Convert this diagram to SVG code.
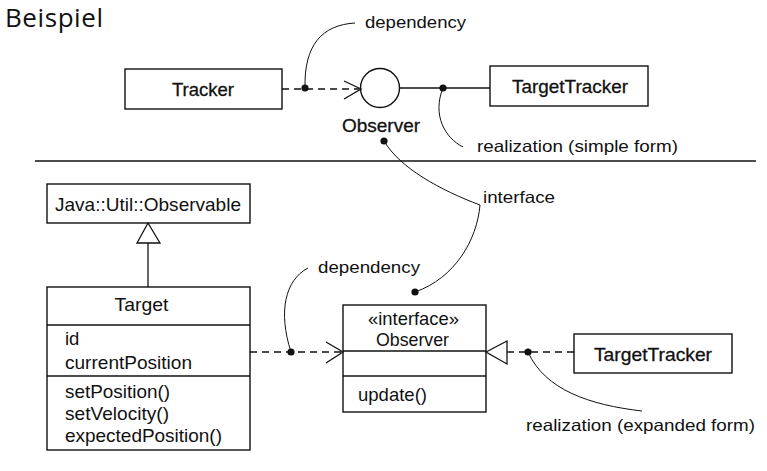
<svg xmlns="http://www.w3.org/2000/svg" width="767" height="471" viewBox="0 0 767 471">
<style>
.bg{fill:#ffffff}
.box{fill:#ffffff;stroke:#111;stroke-width:1.4}
.ln{fill:none;stroke:#111;stroke-width:1.3}
.dash{fill:none;stroke:#111;stroke-width:1.3;stroke-dasharray:7,5}
.lead{fill:none;stroke:#111;stroke-width:1}
.dot{fill:#111}
.tri{fill:#ffffff;stroke:#111;stroke-width:1.3}
text{font-family:"Liberation Sans",Arial,sans-serif;fill:#111}
.t{font-size:18.5px}
.b{font-size:18.5px;stroke:#111;stroke-width:0.3}
.n{font-size:16.5px}
.title{font-family:"Open Sans","DejaVu Sans",sans-serif;font-size:26px}
</style>
<rect class="bg" x="0" y="0" width="767" height="471"/>
<text class="title" x="5" y="27" textLength="98" lengthAdjust="spacing">Beispiel</text>
<line class="ln" x1="35" y1="161" x2="756" y2="161"/>

<g id="tracker">
<rect class="box" x="125" y="69" width="157" height="40"/>
<text class="b" x="172" y="95.5" textLength="62" lengthAdjust="spacingAndGlyphs">Tracker</text>
</g>
<g id="observer-lollipop">
<circle class="box" cx="380" cy="88" r="19.5"/>
<text class="b" x="342" y="132" textLength="78" lengthAdjust="spacingAndGlyphs">Observer</text>
</g>
<g id="targettracker-top">
<rect class="box" x="490" y="66" width="158" height="40"/>
<text class="b" x="512" y="93" textLength="116" lengthAdjust="spacingAndGlyphs">TargetTracker</text>
</g>

<g id="observable">
<rect class="box" x="47" y="184" width="203" height="39"/>
<text class="t" x="55" y="210.5" textLength="186" lengthAdjust="spacingAndGlyphs">Java::Util::Observable</text>
</g>
<g id="target">
<rect class="box" x="47" y="287" width="203" height="163"/>
<line class="ln" x1="47" y1="325" x2="250" y2="325"/>
<line class="ln" x1="47" y1="376" x2="250" y2="376"/>
<text class="t" x="114.5" y="311" textLength="54" lengthAdjust="spacingAndGlyphs">Target</text>
<text class="t" x="65" y="345">id</text>
<text class="t" x="65" y="368.5" textLength="127" lengthAdjust="spacingAndGlyphs">currentPosition</text>
<text class="t" x="65" y="397.5" textLength="105" lengthAdjust="spacingAndGlyphs">setPosition()</text>
<text class="t" x="65" y="420" textLength="104" lengthAdjust="spacingAndGlyphs">setVelocity()</text>
<text class="t" x="65" y="441.5" textLength="157" lengthAdjust="spacingAndGlyphs">expectedPosition()</text>
</g>
<g id="observer-interface">
<rect class="box" x="343" y="305" width="143" height="107"/>
<line class="ln" x1="343" y1="351" x2="486" y2="351"/>
<line class="ln" x1="343" y1="376" x2="486" y2="376"/>
<text class="t" x="368" y="325" textLength="91" lengthAdjust="spacingAndGlyphs">«interface»</text>
<text class="t" x="376" y="346" textLength="73" lengthAdjust="spacingAndGlyphs">Observer</text>
<text class="t" x="358" y="400.5" textLength="69" lengthAdjust="spacingAndGlyphs">update()</text>
</g>
<g id="targettracker-bottom">
<rect class="box" x="574" y="334" width="158" height="39"/>
<text class="b" x="594" y="360.5" textLength="118" lengthAdjust="spacingAndGlyphs">TargetTracker</text>
</g>

<g id="connectors">
<line class="dash" x1="282" y1="89" x2="359" y2="89"/>
<path class="ln" d="M344,81 L361,89 L344,99"/>
<line class="ln" x1="399.5" y1="88" x2="490" y2="88"/>
<line class="ln" x1="148" y1="243" x2="148" y2="287"/>
<path class="tri" d="M148,223 L160,243 L137,243 Z"/>
<line class="dash" x1="250" y1="352" x2="342" y2="352"/>
<path class="ln" d="M326,342 L343,352 L326,363"/>
<line class="dash" x1="507" y1="352" x2="574" y2="352"/>
<path class="tri" d="M486,352 L507,341 L507,364 Z"/>
</g>

<g id="annotations">
<path class="lead" d="M305,88 C304,45 322,25 355,23"/>
<circle class="dot" cx="305" cy="88" r="3.6"/>
<text class="n" x="365" y="28" textLength="101" lengthAdjust="spacingAndGlyphs">dependency</text>
<path class="lead" d="M443,88 C432,115 445,138 463,147"/>
<circle class="dot" cx="443" cy="88" r="3.6"/>
<text class="n" x="477" y="152" textLength="201" lengthAdjust="spacingAndGlyphs">realization (simple form)</text>
<path class="lead" d="M384,141 C400,168 440,190 480,205 C477,240 455,278 415,292"/>
<circle class="dot" cx="384" cy="141" r="3.6"/>
<circle class="dot" cx="415" cy="292" r="3.6"/>
<text class="n" x="483" y="202.5" textLength="72" lengthAdjust="spacingAndGlyphs">interface</text>
<path class="lead" d="M308,268 C285,280 278,312 291,352"/>
<circle class="dot" cx="291" cy="352" r="3.6"/>
<text class="n" x="318" y="273" textLength="102" lengthAdjust="spacingAndGlyphs">dependency</text>
<path class="lead" d="M528,352 C545,390 590,405 642,411"/>
<circle class="dot" cx="528" cy="352" r="3.6"/>
<text class="n" x="526" y="430.5" textLength="229" lengthAdjust="spacingAndGlyphs">realization (expanded form)</text>
</g>
</svg>
